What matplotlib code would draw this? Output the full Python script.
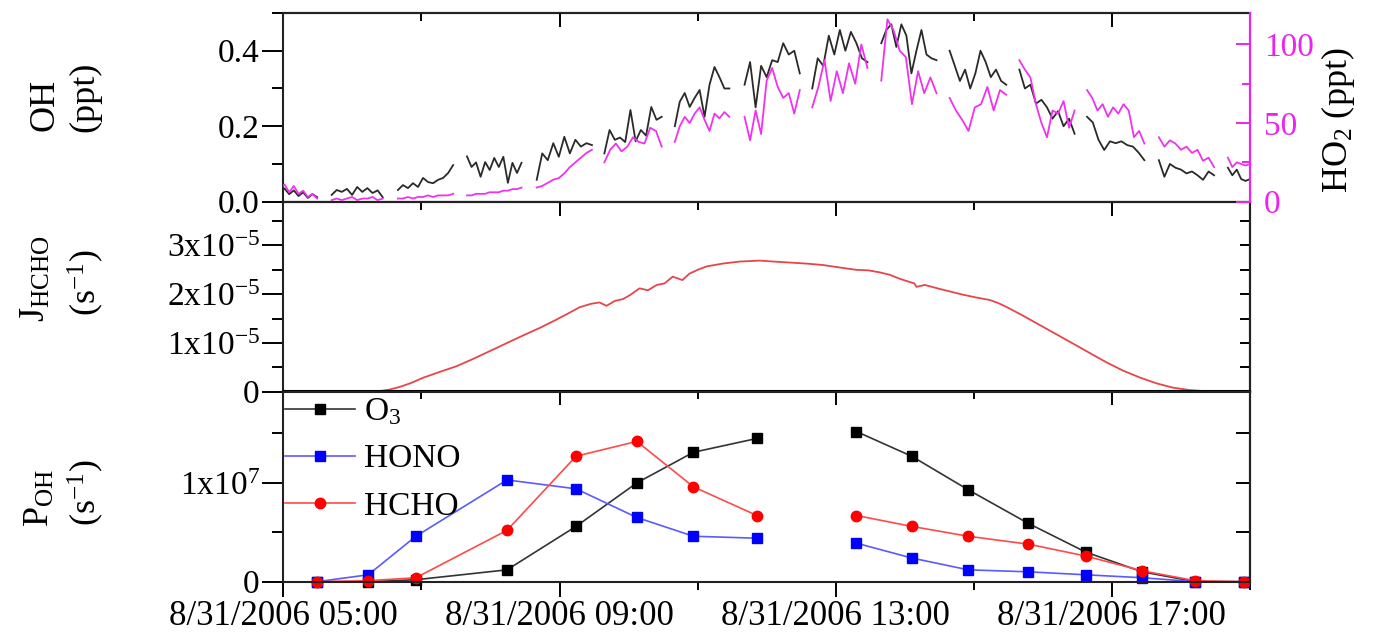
import numpy as np
import matplotlib
matplotlib.use('Agg')
import matplotlib.pyplot as plt

plt.rcParams['font.family'] = ['Liberation Serif', 'DejaVu Serif']
plt.rcParams['mathtext.fontset'] = 'custom'
plt.rcParams['mathtext.rm'] = 'Liberation Serif'
plt.rcParams['mathtext.it'] = 'Liberation Serif:italic'
plt.rcParams['mathtext.bf'] = 'Liberation Serif:bold'
plt.rcParams['mathtext.default'] = 'regular'

# ---------------- data ----------------
# x axis (hours of 8/31/2006)
x_major = [5, 9, 13, 17]
x_minor = [7, 11, 15, 19]
x_labels = ['8/31/2006 05:00', '8/31/2006 09:00', '8/31/2006 13:00', '8/31/2006 17:00']

# top panel: measurement segments (start / end hour)
seg_start = [4.95, 5.70, 6.66, 7.66, 8.67, 9.65, 10.67, 11.68, 12.66, 13.66, 14.65, 15.66, 16.64, 17.68, 18.68]
seg_end = [5.49, 6.44, 7.46, 8.45, 9.47, 10.48, 11.46, 12.48, 13.46, 14.46, 15.47, 16.46, 17.47, 18.48, 19.00]

oh_segments = [
    [0.025, 0.035, 0.020, 0.030, 0.015, 0.025, 0.010, 0.020, 0.012],
    [0.018, 0.031, 0.026, 0.034, 0.018, 0.039, 0.026, 0.036, 0.023, 0.030, 0.012],
    [0.031, 0.044, 0.036, 0.049, 0.039, 0.063, 0.052, 0.049, 0.058, 0.063, 0.076, 0.097],
    [0.120, 0.092, 0.104, 0.066, 0.105, 0.084, 0.116, 0.092, 0.119, 0.050, 0.103, 0.076, 0.103],
    [0.058, 0.128, 0.110, 0.155, 0.119, 0.172, 0.128, 0.164, 0.146, 0.155, 0.150],
    [0.128, 0.190, 0.164, 0.170, 0.158, 0.243, 0.160, 0.190, 0.175, 0.251, 0.217, 0.225],
    [0.200, 0.265, 0.288, 0.251, 0.275, 0.296, 0.225, 0.310, 0.357, 0.330, 0.300, 0.300],
    [0.310, 0.370, 0.250, 0.360, 0.330, 0.375, 0.370, 0.420, 0.390, 0.400, 0.340],
    [0.300, 0.380, 0.360, 0.440, 0.390, 0.455, 0.400, 0.450, 0.420, 0.380, 0.370],
    [0.420, 0.455, 0.470, 0.410, 0.470, 0.440, 0.340, 0.400, 0.455, 0.390, 0.380, 0.375],
    [0.400, 0.360, 0.320, 0.350, 0.300, 0.340, 0.400, 0.370, 0.330, 0.350, 0.320, 0.310],
    [0.350, 0.300, 0.310, 0.260, 0.270, 0.250, 0.220, 0.240, 0.200, 0.220, 0.180],
    [0.225, 0.210, 0.164, 0.137, 0.160, 0.155, 0.160, 0.150, 0.146, 0.130, 0.110],
    [0.110, 0.066, 0.100, 0.090, 0.085, 0.075, 0.080, 0.070, 0.058, 0.080, 0.070],
    [0.090, 0.070, 0.085, 0.060, 0.055, 0.060],
]

ho2_segments = [
    [8, 11, 6, 10, 5, 7, 3, 5, 2],
    [1, 2, 1, 2, 3, 1, 2, 2, 3, 1, 2],
    [2, 2, 3, 2, 3, 3, 4, 3, 4, 4, 4, 5],
    [4, 4, 5, 5, 5, 6, 6, 6, 7, 7, 8, 8, 9],
    [9, 10, 12, 14, 15, 18, 22, 25, 28, 31, 33],
    [25, 33, 37, 32, 35, 41, 38, 37, 47, 45, 35],
    [38, 48, 54, 50, 56, 60, 52, 45, 56, 53, 57, 54],
    [54, 39, 58, 43, 77, 85, 73, 66, 69, 56, 71],
    [60, 73, 90, 64, 83, 69, 88, 75, 100, 85],
    [77, 116, 109, 96, 92, 62, 83, 69, 79, 69],
    [66, 58, 52, 45, 60, 62, 73, 58, 71, 68],
    [90, 84, 79, 62, 50, 41, 58, 56, 64, 47, 58],
    [71, 66, 58, 62, 54, 60, 56, 62, 58, 41, 45, 37],
    [41, 35, 39, 37, 33, 35, 31, 33, 26, 28, 22],
    [28, 22, 25, 24, 23, 24],
]

# middle panel: J(HCHO)
j_time = [5.00, 5.82, 6.10, 6.40, 6.54, 6.70, 6.86, 7.02, 7.26, 7.51, 7.75, 7.99, 8.23, 8.47,
          8.72, 8.96, 9.12, 9.29, 9.45, 9.58, 9.68, 9.80, 9.92, 10.02, 10.16, 10.28, 10.41,
          10.52, 10.64, 10.78, 10.88, 11.00, 11.13, 11.37, 11.61, 11.90, 12.10, 12.33, 12.56,
          12.81, 13.05, 13.30, 13.47, 13.63, 13.78, 13.92, 14.05, 14.14, 14.17, 14.29, 14.50,
          14.67, 14.84, 15.04, 15.23, 15.35, 15.47, 15.71, 15.95, 16.19, 16.43, 16.68, 16.92,
          17.16, 17.40, 17.64, 17.88, 18.12, 18.37, 19.00]
j_hcho = [0.00, 0.00, 0.00, 0.01, 0.04, 0.10, 0.18, 0.28, 0.40, 0.52, 0.67, 0.83, 0.99, 1.15,
          1.31, 1.48, 1.60, 1.73, 1.80, 1.83, 1.76, 1.86, 1.90, 1.98, 2.12, 2.08, 2.19,
          2.22, 2.36, 2.29, 2.42, 2.50, 2.57, 2.63, 2.67, 2.69, 2.67, 2.65, 2.63,
          2.60, 2.55, 2.50, 2.49, 2.45, 2.40, 2.32, 2.26, 2.22, 2.15, 2.19, 2.11,
          2.05, 1.99, 1.93, 1.88, 1.82, 1.74, 1.56, 1.37, 1.18, 0.99, 0.79, 0.60,
          0.43, 0.29, 0.17, 0.08, 0.03, 0.005, 0.00]  # x1e-5 s^-1

# bottom panel: P(OH) contributions (x1e7 s^-1)
p_time = [5.49, 6.23, 6.92, 8.24, 9.24, 10.12, 10.94, 11.86, np.nan,
          13.30, 14.10, 14.92, 15.79, 16.62, 17.44, 18.21, 18.92]
p_o3 = [0.00, 0.00, 0.02, 0.12, 0.56, 1.00, 1.31, 1.45, np.nan,
        1.52, 1.27, 0.93, 0.59, 0.30, 0.10, 0.00, 0.00]
p_hono = [0.00, 0.07, 0.46, 1.03, 0.94, 0.65, 0.46, 0.44, np.nan,
          0.39, 0.24, 0.12, 0.10, 0.07, 0.04, 0.00, 0.00]
p_hcho = [0.00, 0.01, 0.04, 0.52, 1.27, 1.42, 0.96, 0.67, np.nan,
          0.67, 0.56, 0.46, 0.38, 0.26, 0.11, 0.01, 0.00]

# ---------------- figure ----------------
W, H = 1388, 639
fig = plt.figure(figsize=(W / 100, H / 100), dpi=100)


def box(x0, y0, x1, y1):
    return [x0 / W, 1 - y1 / H, (x1 - x0) / W, (y1 - y0) / H]


ax1 = fig.add_axes(box(283.3, 13, 1250, 201.7))
ax2 = fig.add_axes(box(283.3, 201.7, 1250, 391.5))
ax3 = fig.add_axes(box(283.3, 391.5, 1250, 581.7))

MAG = '#ee22ee'
TICK_FS = 24
XTICK_FS = 25
LAB_FS = 26
SPW = 1.5
AXC = '#222222'

for ax in (ax1, ax2, ax3):
    ax.set_xlim(5, 19)
    ax.set_xticks(x_major)
    ax.set_xticks(x_minor, minor=True)
    ax.tick_params(axis='x', which='major', direction='out', length=11, width=1.4,
                   top=False, labelsize=XTICK_FS, pad=2)
    ax.tick_params(axis='x', which='minor', direction='out', length=6, width=1.4, top=False)
    ax.tick_params(axis='y', which='major', direction='out', length=15, width=1.4,
                   right=False, labelsize=TICK_FS, pad=2)
    ax.tick_params(axis='y', which='minor', direction='out', length=8, width=1.4, right=False)
    for s in ax.spines.values():
        s.set_linewidth(SPW)
        s.set_color(AXC)
    sec = ax.secondary_xaxis('top')
    sec.set_xticks(x_major)
    sec.set_xticks(x_minor, minor=True)
    sec.tick_params(axis='x', which='major', direction='in', length=10, width=1.4, labeltop=False)
    sec.tick_params(axis='x', which='minor', direction='in', length=6, width=1.4, labeltop=False)
    sec.spines['top'].set_linewidth(SPW)

ax1.set_xticklabels([])
ax2.set_xticklabels([])
ax3.set_xticklabels(x_labels)

# ---- top panel ----
oh_color = '#2a2a2a'
for t0, t1, v in zip(seg_start, seg_end, oh_segments):
    ax1.plot(np.linspace(t0, t1, len(v)), v, color=oh_color, lw=1.3)
ax1.set_ylim(0, 0.5)
ax1.set_yticks([0.0, 0.2, 0.4])
ax1.set_yticklabels(['0.0', '0.2', '0.4'])
ax1.set_yticks([0.1, 0.3, 0.5], minor=True)

tw = ax1.twinx()
tw.set_xlim(5, 19)
for t0, t1, v in zip(seg_start, seg_end, ho2_segments):
    tw.plot(np.linspace(t0, t1, len(v)), v, color='#f032f0', lw=1.3)
tw.set_ylim(0, 120)
tw.set_yticks([0, 50, 100])
tw.set_yticks([25, 75], minor=True)
tw.tick_params(axis='y', which='major', direction='in', length=10, width=1.4,
               colors=MAG, labelsize=TICK_FS, pad=10)
tw.tick_params(axis='y', which='minor', direction='in', length=6, width=1.4, colors=MAG)
tw.spines['right'].set_color(MAG)
tw.spines['right'].set_linewidth(SPW)
ax1.spines['right'].set_color(MAG)
for s in ('left', 'top', 'bottom'):
    tw.spines[s].set_visible(False)

# ---- middle panel ----
ax2.plot(j_time, np.array(j_hcho) * 1e-5, color='#e8454a', lw=1.3)
ax2.set_ylim(0, 3.9e-5)
ax2.set_yticks([0, 1e-5, 2e-5, 3e-5])
ax2.set_yticklabels(['0', '1x10$^{-5}$', '2x10$^{-5}$', '3x10$^{-5}$'])
ax2.set_yticks([0.5e-5, 1.5e-5, 2.5e-5, 3.5e-5], minor=True)
sec2 = ax2.secondary_yaxis('right')
sec2.set_yticks([0.5e-5, 1e-5, 1.5e-5, 2e-5, 2.5e-5, 3e-5, 3.5e-5])
sec2.tick_params(axis='y', direction='in', length=7, width=1.4, labelright=False)
sec2.spines['right'].set_linewidth(SPW)

# ---- bottom panel ----
pt = np.array(p_time)
ax3.plot(pt, np.array(p_o3) * 1e7, color='#333333', lw=1.2, marker='s', ms=6.5,
         mfc='black', mec='black', label='O$_3$', clip_on=False)
ax3.plot(pt, np.array(p_hono) * 1e7, color='#5a5aff', lw=1.2, marker='s', ms=6.5,
         mfc='#0000ff', mec='#0000ff', label='HONO', clip_on=False)
ax3.plot(pt, np.array(p_hcho) * 1e7, color='#ff4a4a', lw=1.2, marker='o', ms=7.5,
         mfc='#ff0000', mec='#ff0000', label='HCHO', clip_on=False)
ax3.set_ylim(0, 1.925e7)
ax3.set_yticks([0, 1e7])
ax3.set_yticklabels(['0', '1x10$^{7}$'])
ax3.set_yticks([0.5e7, 1.5e7], minor=True)
sec3 = ax3.secondary_yaxis('right')
sec3.set_yticks([0.5e7, 1e7, 1.5e7])
sec3.tick_params(axis='y', direction='in', length=10, width=1.4, labelright=False)
sec3.spines['right'].set_linewidth(SPW)
leg = ax3.legend(loc='upper left', bbox_to_anchor=(-0.003, 1.0), frameon=False,
                 fontsize=24, handlelength=2.1, handletextpad=0.25, borderaxespad=0,
                 borderpad=0.15, labelspacing=0.5)

# ---- axis labels ----
fig.text(45 / W, 1 - 105 / H, 'OH', rotation=90, ha='center', va='center', fontsize=LAB_FS)
fig.text(85 / W, 1 - 97 / H, '(ppt)', rotation=90, ha='center', va='center', fontsize=LAB_FS)
fig.text(36 / W, 1 - 279 / H, 'J$_{HCHO}$', rotation=90, ha='center', va='center', fontsize=LAB_FS)
fig.text(86 / W, 1 - 283 / H, '(s$^{-1}$)', rotation=90, ha='center', va='center', fontsize=LAB_FS)
fig.text(40 / W, 1 - 498 / H, 'P$_{OH}$', rotation=90, ha='center', va='center', fontsize=LAB_FS)
fig.text(86 / W, 1 - 493 / H, '(s$^{-1}$)', rotation=90, ha='center', va='center', fontsize=LAB_FS)
fig.text(1338 / W, 1 - 120 / H, 'HO$_2$ (ppt)', rotation=90, ha='center', va='center', fontsize=LAB_FS)

fig.savefig('out.png', dpi=100)
